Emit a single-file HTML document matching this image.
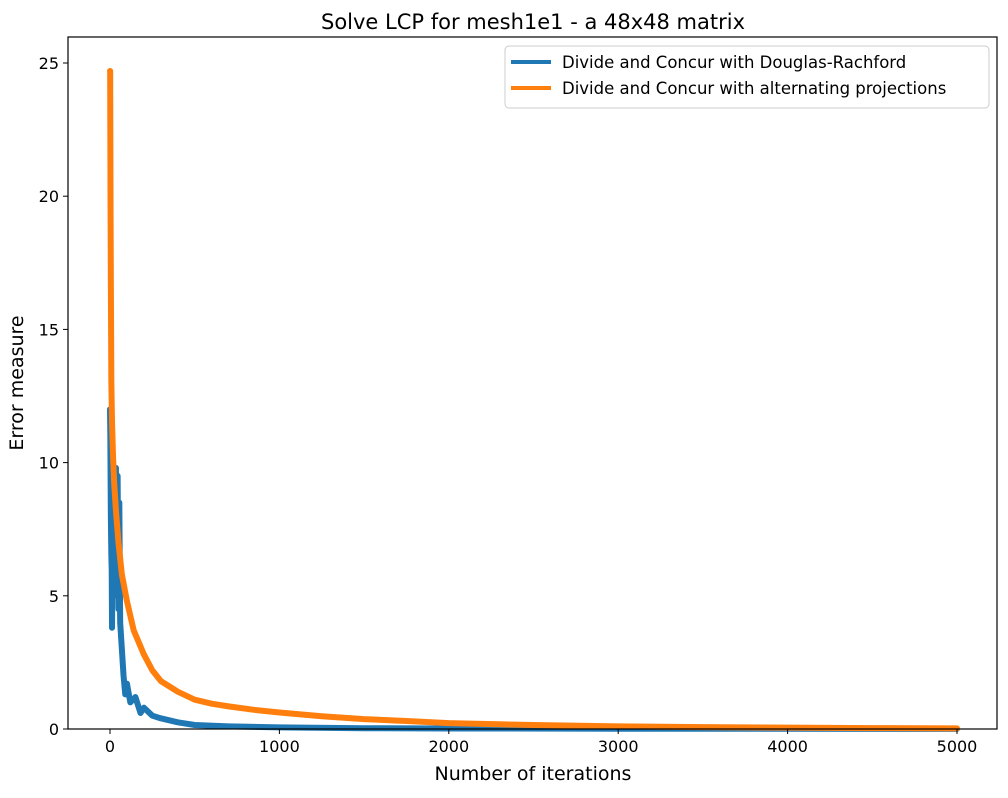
<!DOCTYPE html>
<html><head><meta charset="utf-8"><style>
body{margin:0;background:#fff;}
svg text{font-family:"DejaVu Sans","Liberation Sans",sans-serif;}
</style></head><body>
<svg id="chart" width="1008" height="793">
<rect x="0" y="0" width="1008" height="793" fill="#fff"/>
<text x="533" y="29" font-size="21" text-anchor="middle">Solve LCP for mesh1e1 - a 48x48 matrix</text>
<g id="plot"></g>
<text x="533" y="780" font-size="19" text-anchor="middle">Number of iterations</text>
<text x="23" y="383" font-size="19" text-anchor="middle" transform="rotate(-90 23 383)">Error measure</text>
</svg>
<script>
const drIters=[0,2,5,8,10,12,15,20,25,30,35,40,45,50,55,60,70,80,90,100,120,150,180,200,250,300,400,500,700,1000,1500,2000,3000,5000];
const drVals=[12,11,8,6.5,6,3.8,7,5,9,6,9.8,5,9.5,4.5,8.5,4,3,2,1.3,1.7,1,1.2,0.6,0.8,0.5,0.4,0.25,0.15,0.1,0.06,0.03,0.02,0.01,0.005];
const apIters=[0,1,3,5,8,12,18,25,35,50,70,100,140,200,250,300,400,500,600,700,850,1000,1250,1500,1750,2000,2500,3000,3500,4000,4500,5000];
const apVals=[24.7,24.7,20,16.8,13,11.5,10.2,9.2,8.2,7,5.8,4.8,3.7,2.8,2.2,1.8,1.4,1.1,0.95,0.85,0.72,0.62,0.48,0.37,0.3,0.22,0.15,0.1,0.07,0.05,0.035,0.025];
const xTicks=[0,1000,2000,3000,4000,5000];
const yTicks=[0,5,10,15,20,25];
const L=68,R=997,T=37,B=729;
const x=v=>110+v*(957-110)/5000;
const y=v=>729-v*(729-63)/25;
const ns='http://www.w3.org/2000/svg';
const g=document.getElementById('plot');
function mk(tag,attrs){const e=document.createElementNS(ns,tag);for(const k in attrs)e.setAttribute(k,attrs[k]);g.appendChild(e);return e;}
function series(xs,ys,color,name){
  const p=mk('polyline',{points:xs.map((v,i)=>x(v)+','+y(ys[i])).join(' '),fill:'none',stroke:color,'stroke-width':6,'stroke-linejoin':'round','stroke-linecap':'round'});
  
  
}
series(drIters,drVals,'#1f77b4','douglas-rachford-line');
series(apIters,apVals,'#ff7f0e','alternating-projections-line');
const fr=mk('rect',{x:L,y:T,width:R-L,height:B-T,fill:'none',stroke:'#000','stroke-width':1.2});


xTicks.forEach(t=>{
  const l=mk('line',{x1:x(t),x2:x(t),y1:B,y2:B+5,stroke:'#000'});
  
  
  const tx=mk('text',{x:x(t),y:B+23,'font-size':16,'text-anchor':'middle'});tx.textContent=t;
  
  
});
yTicks.forEach(t=>{
  const l=mk('line',{x1:L-5,x2:L,y1:y(t),y2:y(t),stroke:'#000'});
  
  
  const tx=mk('text',{x:L-9,y:y(t)+6,'font-size':16,'text-anchor':'end'});tx.textContent=t;
  
  
});
const lg=mk('rect',{x:505,y:46,width:484,height:62,rx:4,fill:'#fff',stroke:'#ccc'});


[['#1f77b4','Divide and Concur with Douglas-Rachford',62],['#ff7f0e','Divide and Concur with alternating projections',88]].forEach(([c,t,yy])=>{
  const l=mk('line',{x1:511,x2:551,y1:yy,y2:yy,stroke:c,'stroke-width':4});
  
  
  const tx=mk('text',{x:562,y:yy+6,'font-size':16.5});tx.textContent=t;
  
  
});
</script>
</body></html>
